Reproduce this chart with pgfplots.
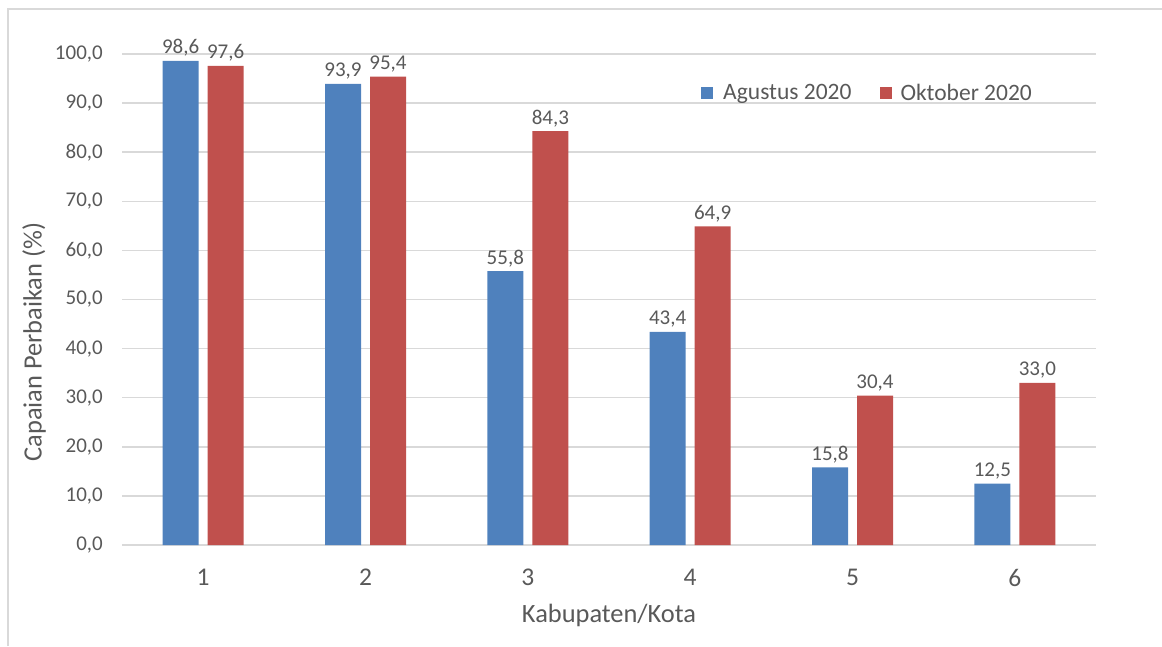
\documentclass[border=0pt]{standalone}
\usepackage{pgfplots}
\pgfplotsset{compat=1.18}
\usepackage{fontspec}
\setmainfont{Carlito}
\definecolor{txt}{HTML}{595959}
\definecolor{gridc}{HTML}{D9D9D9}
\definecolor{frm}{HTML}{D9D9D9}
\definecolor{cblue}{HTML}{4F81BD}
\definecolor{cred}{HTML}{C0504D}
\begin{document}
\begin{tikzpicture}
\path[use as bounding box] (0,0) rectangle (1162pt,646pt);
\draw[frm, line width=1.5pt] (8pt,0pt) -- (8pt,637pt) -- (1162pt,637pt);
\begin{axis}[
  at={(122pt,101pt)}, anchor=south west,
  scale only axis, width=974pt, height=491pt,
  ymin=0, ymax=100, xmin=0.5, xmax=6.5,
  ytick={0,10,...,100}, xtick={1,2,3,4,5,6},
  axis line style={draw=none},
  major tick length=0pt,
  ymajorgrids, grid style={gridc, line width=1.5pt},
  ybar=9pt, bar width=36pt,
  yticklabel={\pgfmathprintnumber[fixed,fixed zerofill,precision=1,use comma,assume math mode=true]{\tick}},
  yticklabel style={font=\fontsize{21}{24}\selectfont, text=txt, anchor=east, xshift=-19pt, inner sep=0pt},
  xticklabel style={font=\fontsize{25.5}{28}\selectfont, text=txt, anchor=center, yshift=-32.5pt, inner sep=0pt},
  xticklabel={\pgfmathprintnumber[assume math mode=true]{\tick}},
  nodes near coords={\pgfmathprintnumber[fixed,fixed zerofill,precision=1,use comma,assume math mode=true]{\pgfplotspointmeta}},
  every node near coord/.append style={font=\fontsize{21}{24}\selectfont, text=txt, anchor=base, yshift=7pt, inner sep=0pt},
  legend columns=2,
  legend style={draw=none, fill=none, at={(0.5945,0.9206)}, anchor=west, font=\fontsize{23.5}{27}\selectfont, text=txt, inner sep=0pt, /tikz/every even column/.append style={column sep=26pt}},
  legend image code/.code={\fill[#1] (0pt,-6pt) rectangle (12pt,6pt);},
  clip=false,
]
\addplot[fill=cblue, draw=none] coordinates {(1,98.6) (2,93.9) (3,55.8) (4,43.4) (5,15.8) (6,12.5)};
\addplot[fill=cred, draw=none] coordinates {(1,97.6) (2,95.4) (3,84.3) (4,64.9) (5,30.4) (6,33.0)};
\legend{\hspace{8pt}Agustus 2020, \hspace{7pt}Oktober 2020}
\end{axis}
\node[text=txt, font=\fontsize{26.4}{30}\selectfont, rotate=90] at (34pt,304pt) {Capaian Perbaikan (\%)};
\node[text=txt, font=\fontsize{26.4}{30}\selectfont] at (609pt,31pt) {Kabupaten/Kota};
\end{tikzpicture}
\end{document}
